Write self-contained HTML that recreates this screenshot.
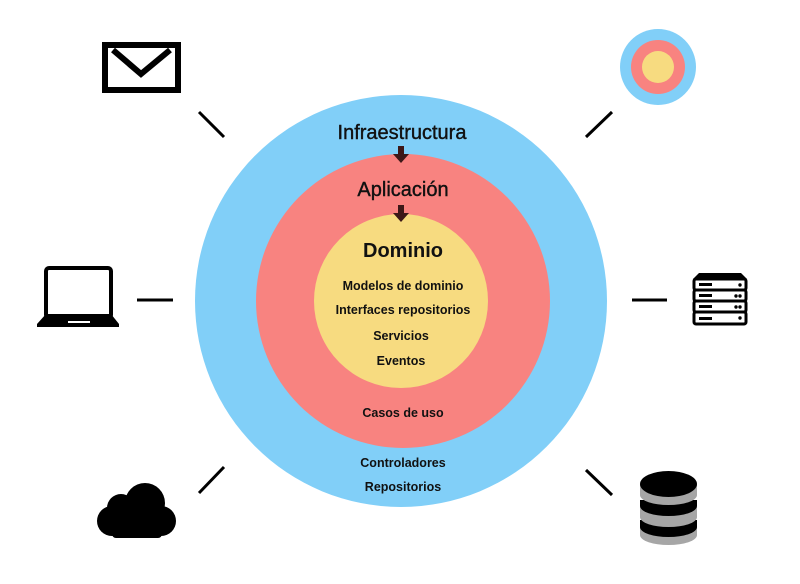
<!DOCTYPE html>
<html><head><meta charset="utf-8"><style>
html,body{margin:0;padding:0;background:#fff;}
svg{display:block}
text{font-family:"Liberation Sans",sans-serif;fill:#111;text-anchor:middle}
</style></head><body>
<svg width="800" height="584" viewBox="0 0 800 584">
<circle cx="401" cy="301" r="206" fill="#81cff8"/>
<circle cx="403" cy="301" r="147" fill="#f88380"/>
<circle cx="401" cy="301" r="87" fill="#f7db80"/>
<text x="402" y="139" font-size="20" stroke="#111" stroke-width="0.4">Infraestructura</text>
<text x="403" y="196" font-size="20" stroke="#111" stroke-width="0.4">Aplicación</text>
<text x="403" y="257" font-size="20" font-weight="bold">Dominio</text>
<g fill="#3d1818">
<path d="M398 146h6v8h5l-8 9-8-9h5z"/>
<path d="M398 205h6v8h5l-8 9-8-9h5z"/>
</g>
<g font-size="12.5" font-weight="bold">
<text x="403" y="290">Modelos de dominio</text>
<text x="403" y="314">Interfaces repositorios</text>
<text x="401" y="340">Servicios</text>
<text x="401" y="365">Eventos</text>
<text x="403" y="417">Casos de uso</text>
<text x="403" y="467">Controladores</text>
<text x="403" y="491">Repositorios</text>
</g>
<g stroke="#000" stroke-width="3">
<line x1="199" y1="112" x2="224" y2="137"/>
<line x1="137" y1="300" x2="173" y2="300"/>
<line x1="199" y1="493" x2="224" y2="467"/>
<line x1="586" y1="137" x2="612" y2="112"/>
<line x1="632" y1="300" x2="667" y2="300"/>
<line x1="586" y1="470" x2="612" y2="495"/>
</g>
<!-- envelope -->
<rect x="105" y="45" width="73" height="45" fill="none" stroke="#000" stroke-width="6"/>
<path d="M113 50 L141 74 L170 50" fill="none" stroke="#000" stroke-width="6"/>
<!-- laptop -->
<rect x="46" y="268" width="65" height="50" rx="3" fill="none" stroke="#000" stroke-width="4"/>
<path d="M46 314 L111 314 L119 324 L119 327 L37 327 L37 324 Z" fill="#000"/>
<rect x="68" y="321" width="22" height="2" fill="#fff"/>
<!-- cloud -->
<g fill="#000">
<circle cx="145" cy="503" r="20"/>
<circle cx="121" cy="508" r="14"/>
<circle cx="112" cy="521" r="15"/>
<circle cx="161" cy="521" r="15"/>
<rect x="112" y="508" width="50" height="30" rx="4"/>
</g>
<!-- target -->
<circle cx="658" cy="67" r="38" fill="#81cff8"/>
<circle cx="658" cy="67" r="27" fill="#f88380"/>
<circle cx="658" cy="67" r="16" fill="#f7db80"/>
<!-- server -->
<path d="M699 273 L741 273 L747 279 L693 279 Z" fill="#000"/>
<g fill="#fff" stroke="#000" stroke-width="3">
<rect x="694" y="279" width="52" height="11" rx="2"/>
<rect x="694" y="290" width="52" height="11" rx="2"/>
<rect x="694" y="301" width="52" height="11" rx="2"/>
<rect x="694" y="312" width="52" height="12" rx="2"/>
</g>
<g fill="#000">
<rect x="699" y="283" width="13" height="3"/><rect x="699" y="294" width="13" height="3"/>
<rect x="699" y="305" width="13" height="3"/><rect x="699" y="317" width="13" height="3"/>
<circle cx="740" cy="285" r="1.7"/><circle cx="736" cy="296" r="1.7"/><circle cx="740" cy="296" r="1.7"/>
<circle cx="736" cy="307" r="1.7"/><circle cx="740" cy="307" r="1.7"/><circle cx="740" cy="318" r="1.7"/>
</g>
<!-- database -->
<g>
<rect x="640" y="527" width="57" height="8" fill="#a6a6a6"/><ellipse cx="668.5" cy="535" rx="28.5" ry="10" fill="#a6a6a6"/>
<rect x="640" y="520" width="57" height="7" fill="#000"/><ellipse cx="668.5" cy="527" rx="28.5" ry="10" fill="#000"/>
<ellipse cx="668.5" cy="517" rx="28.5" ry="10" fill="#a6a6a6"/>
<rect x="640" y="506" width="57" height="11" fill="#a6a6a6"/>
<rect x="640" y="500" width="57" height="6" fill="#000"/><ellipse cx="668.5" cy="506" rx="28.5" ry="10" fill="#000"/>
<ellipse cx="668.5" cy="495" rx="28.5" ry="10" fill="#a6a6a6"/>
<rect x="640" y="484" width="57" height="11" fill="#a6a6a6"/>
<ellipse cx="668.5" cy="484" rx="28.5" ry="13" fill="#000"/>
</g>
</svg>
</body></html>
